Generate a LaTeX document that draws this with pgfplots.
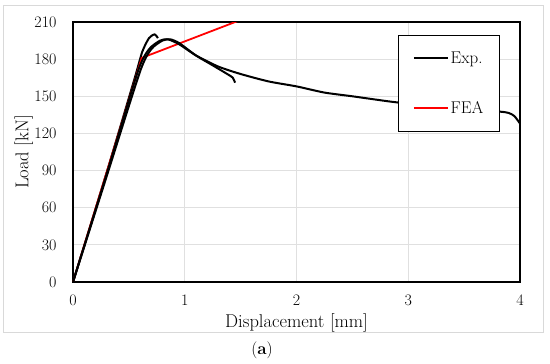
\documentclass[border=0pt]{standalone}
\usepackage{pgfplots}
\pgfplotsset{compat=1.18}
\begin{document}
\begin{tikzpicture}
\begin{axis}[
  name=ax,
  at={(0,0)}, anchor=south west,
  scale only axis, width=447pt, height=260pt,
  xmin=0, xmax=4, ymin=0, ymax=210,
  xtick={0,1,2,3,4}, ytick={0,30,60,90,120,150,180,210},
  grid=major, major grid style={draw=black!12, line width=0.8pt},
  axis line style={black, line width=1.2pt},
  major tick length=0pt,
  tick label style={font=\fontsize{16}{18}\selectfont},
  /pgf/number format/assume math mode=true,
  xticklabel style={anchor=center, yshift=-18pt},
  yticklabel style={anchor=east, xshift=-13pt},
  xlabel={Displacement [mm]}, ylabel={Load [kN]},
  label style={font=\fontsize{18.5}{21}\selectfont},
  xlabel style={at={(axis description cs:0.5,-0.158)}, anchor=center},
  ylabel style={at={(axis description cs:-0.11,0.5)}, anchor=center, rotate=0},
  legend style={at={(0.955,0.95)}, anchor=north east, draw=black, line width=1pt,
    fill=white, font=\fontsize{17}{19}\selectfont, row sep=33pt,
    inner xsep=14pt, inner ysep=14pt},
  legend cell align=left,
  legend image code/.code={\draw[#1, line width=1.8pt] (0pt,0pt) -- (34pt,0pt);},
  clip=true,
]
\addplot[black, line width=2pt, smooth, tension=0.4] coordinates {
(0,0) (0.3,88) (0.55,164) (0.62,186) (0.68,197) (0.73,200) (0.76,197)};
\addlegendentry{Exp.}
\addplot[red, line width=1.8pt] coordinates {(0,0) (0.615,181) (2,229)};
\addlegendentry{FEA}
\addplot[black, line width=2pt, smooth, tension=0.4, forget plot] coordinates {
(0,0) (0.3,85) (0.6,170) (0.7,188) (0.8,195) (0.87,196) (0.95,193) (1.1,183) (1.25,175) (1.38,168) (1.43,165) (1.45,161)};
\addplot[black, line width=2pt, smooth, tension=0.4, forget plot] coordinates {
(0,0) (0.3,87) (0.58,170) (0.68,188) (0.78,195) (0.85,196) (0.95,192) (1.1,183) (1.3,174) (1.5,168) (1.75,162) (2,158) (2.25,153) (2.5,150) (2.85,145.6) (3.2,142) (3.5,139.5) (3.82,137.6) (3.9,136.5) (3.95,134) (4,128)};
\end{axis}
\useasboundingbox (-73pt,-82pt) rectangle (477pt,282pt);
\draw[black!15, line width=1pt] (-69pt,-51pt) rectangle (470pt,276pt);
\node[font=\fontsize{17}{19}\selectfont] at (189pt,-68pt) {(\textbf{a})};
\end{tikzpicture}
\end{document}
